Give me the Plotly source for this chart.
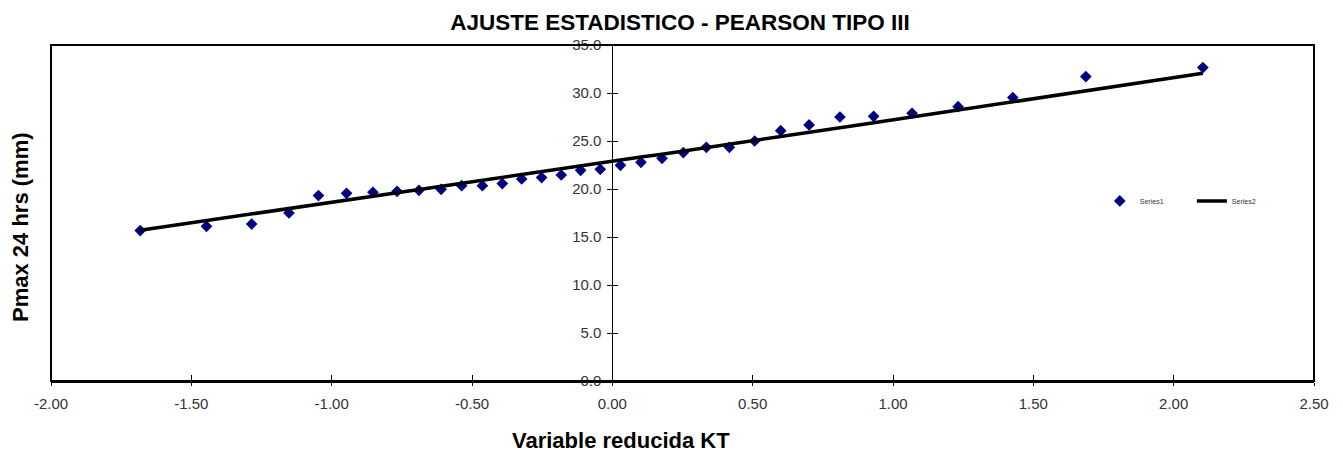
import plotly.graph_objects as go

# Variable reducida KT
kt = [-1.682, -1.446, -1.285, -1.152, -1.047, -0.947, -0.853, -0.767, -0.689, -0.610,
      -0.537, -0.463, -0.392, -0.323, -0.252, -0.182, -0.113, -0.043, 0.029, 0.102,
      0.177, 0.253, 0.335, 0.417, 0.507, 0.600, 0.701, 0.811, 0.931, 1.068,
      1.232, 1.427, 1.687, 2.104]

# Series1: observed Pmax 24 hrs (mm)
observed = [15.67, 16.11, 16.35, 17.50, 19.32, 19.55, 19.66, 19.76, 19.86, 19.97,
            20.35, 20.35, 20.56, 21.04, 21.19, 21.46, 21.95, 22.05, 22.47, 22.78,
            23.20, 23.79, 24.34, 24.34, 25.00, 26.08, 26.67, 27.50, 27.57, 27.89,
            28.58, 29.52, 31.71, 32.65]

# Series2: Pearson III fit
fitted = [15.70, 16.72, 17.42, 18.00, 18.45, 18.88, 19.28, 19.64, 19.97, 20.30,
          20.60, 20.91, 21.20, 21.50, 21.80, 22.10, 22.40, 22.70, 23.02, 23.33,
          23.63, 23.95, 24.30, 24.66, 25.04, 25.45, 25.90, 26.38, 26.90, 27.50,
          28.22, 29.07, 30.20, 32.05]

x_ticks = [-2.0, -1.5, -1.0, -0.5, 0.0, 0.5, 1.0, 1.5, 2.0, 2.5]
x_tick_labels = ["-2.00", "-1.50", "-1.00", "-0.50", "0.00", "0.50", "1.00", "1.50", "2.00", "2.50"]
y_ticks = [0, 5, 10, 15, 20, 25, 30, 35]
y_tick_labels = ["0.0", "5.0", "10.0", "15.0", "20.0", "25.0", "30.0", "35.0"]

x_range = [-2.0, 2.5]
y_range = [0, 35]

FONT = "Liberation Sans, Arial, sans-serif"
PAD = "&nbsp;" * 12

fig = go.Figure()
fig.add_trace(go.Scatter(
    x=kt, y=observed, mode="markers", name="Series1" + PAD,
    marker=dict(symbol="diamond", size=9, color="#000080"),
))
fig.add_trace(go.Scatter(
    x=kt, y=fitted, mode="lines", name="Series2",
    line=dict(color="black", width=3.5),
))

y_pos = (0 - x_range[0]) / (x_range[1] - x_range[0])

fig.update_layout(
    width=1335, height=455,
    margin=dict(l=43, r=29, t=37, b=82, autoexpand=False),
    paper_bgcolor="white", plot_bgcolor="white",
    font=dict(family=FONT, color="#333333"),
    title=dict(text="<b>AJUSTE ESTADISTICO - PEARSON TIPO III</b>",
               x=672 / 1335, xanchor="center", y=1 - 14 / 455, yanchor="middle",
               font=dict(size=22.5, color="black", family=FONT)),
    xaxis=dict(range=x_range, tickvals=x_ticks, ticktext=x_tick_labels,
               showgrid=False, zeroline=False, showline=True, linecolor="black", linewidth=2,
               ticks="outside", ticklen=3, tickcolor="black", tickwidth=1,
               minor=dict(tickvals=x_ticks, ticks="inside", ticklen=6,
                          tickcolor="black", tickwidth=1, showgrid=False),
               tickfont=dict(size=15, color="#333333"), ticklabelstandoff=5),
    yaxis=dict(range=y_range, tickvals=y_ticks, ticktext=y_tick_labels,
               anchor="free", position=y_pos,
               showgrid=False, zeroline=False, showline=True, linecolor="black", linewidth=1,
               ticks="outside", ticklen=5, tickcolor="black", tickwidth=1,
               minor=dict(tickvals=y_ticks, ticks="inside", ticklen=5,
                          tickcolor="black", tickwidth=1, showgrid=False),
               tickfont=dict(size=15, color="#333333"), ticklabelstandoff=3),
    legend=dict(orientation="h", x=0.8304, xanchor="left", y=0.536, yanchor="middle",
                font=dict(size=7, color="#333333"), bgcolor="rgba(0,0,0,0)"),
    showlegend=True,
    shapes=[dict(type="rect", xref="paper", yref="paper", x0=0, x1=1, y0=0, y1=1,
                 line=dict(color="black", width=2), layer="above")],
    annotations=[
        dict(text="<b>Variable reducida KT</b>", xref="paper", yref="paper",
             x=(613 - 43) / 1263, y=(373 - 432) / 336, xanchor="center", yanchor="middle",
             showarrow=False, font=dict(size=22, color="black", family=FONT)),
        dict(text="<b>Pmax 24 hrs (mm)</b>", xref="paper", yref="paper",
             x=(12 - 43) / 1263, y=(373 - 219) / 336, xanchor="center", yanchor="middle",
             textangle=-90, showarrow=False, font=dict(size=22, color="black", family=FONT)),
    ],
)

fig.write_html("out.html")
